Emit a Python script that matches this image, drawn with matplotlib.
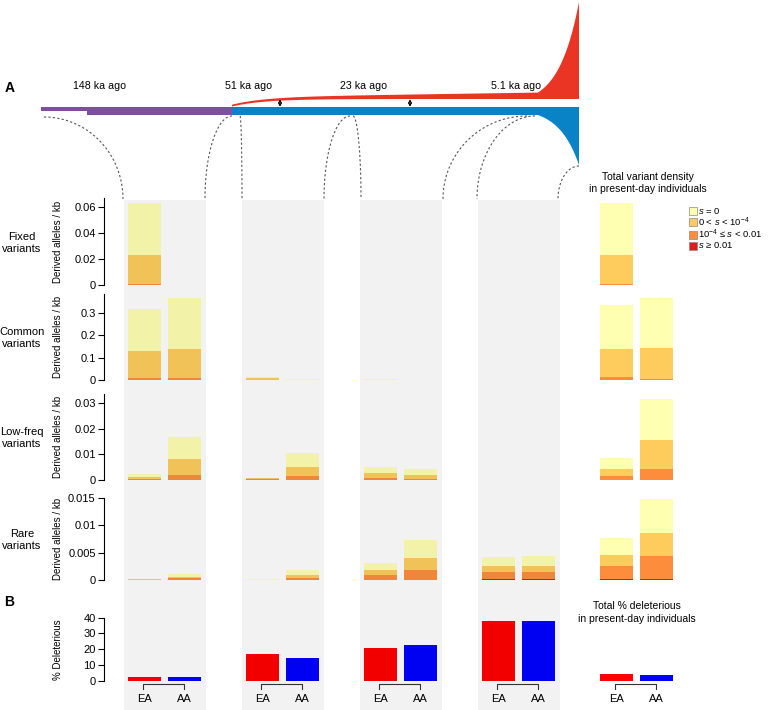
import numpy as np
import matplotlib
matplotlib.use('Agg')
from matplotlib import pyplot as plt
from matplotlib.patches import Rectangle, Polygon
from matplotlib import colors as mcolors

plt.rcParams['font.family'] = ['Liberation Sans', 'DejaVu Sans']
plt.rcParams['mathtext.fontset'] = 'custom'
plt.rcParams['mathtext.rm'] = 'Liberation Sans'
plt.rcParams['mathtext.it'] = 'Liberation Sans:italic'

W, H = 768, 710

# ---------------------------------------------------------------- data
time_labels = ['148 ka ago', '51 ka ago', '23 ka ago', '5.1 ka ago']
pops = ['EA', 'AA']
s_labels = ['$s$ = 0', '0 < $s$ < 10$^{-4}$', '10$^{-4}$ ≤ $s$ < 0.01', '$s$ ≥ 0.01']
s_colors = ['#FFFFB2', '#FECC5C', '#FD8D3C', '#E31A1C']
pop_colors = ['#FF0000', '#0000FF']

# derived alleles / kb; rows = s class (s=0, weak, moderate, strong)
# columns = 148 ka, 51 ka, 23 ka, 5.1 ka, present day
fixed_ea = [[0.0402, 0, 0, 0, 0.0402],
            [0.0226, 0, 0, 0, 0.0226],
            [0.0005, 0, 0, 0, 0.0005],
            [0, 0, 0, 0, 0]]
fixed_aa = [[0, 0, 0, 0, 0],
            [0, 0, 0, 0, 0],
            [0, 0, 0, 0, 0],
            [0, 0, 0, 0, 0]]

common_ea = [[0.187, 0.006, 0.002, 0, 0.195],
             [0.119, 0.006, 0.002, 0, 0.128],
             [0.009, 0.001, 0, 0, 0.011],
             [0.001, 0, 0, 0, 0.001]]
common_aa = [[0.223, 0.001, 0, 0, 0.223],
             [0.133, 0.0015, 0, 0, 0.138],
             [0.007, 0.0005, 0, 0, 0.006],
             [0, 0, 0, 0, 0]]

lowfreq_ea = [[0.0011, 0.0002, 0.0025, 0, 0.0043],
              [0.0006, 0.0003, 0.0018, 0, 0.0028],
              [0.0005, 0.0004, 0.0009, 0, 0.0016],
              [0, 0, 0, 0, 0]]
lowfreq_aa = [[0.0086, 0.0056, 0.0021, 0, 0.0162],
              [0.0063, 0.0035, 0.0016, 0, 0.0111],
              [0.0019, 0.0014, 0.0005, 0, 0.0043],
              [0, 0, 0, 0, 0]]

rare_ea = [[0.0001, 0.00005, 0.0013, 0.0016, 0.0030],
           [0.0001, 0.00005, 0.0009, 0.0011, 0.0020],
           [0, 0, 0.0009, 0.0013, 0.0024],
           [0, 0, 0, 0.0002, 0.0002]]
rare_aa = [[0.00044, 0.0009, 0.0033, 0.0017, 0.0063],
           [0.0003, 0.0005, 0.0023, 0.0011, 0.0043],
           [0.0003, 0.0004, 0.0018, 0.0013, 0.0041],
           [0, 0, 0, 0.0002, 0.0002]]

pct_del_ea = [2.7, 16.9, 21.0, 38.1, 4.4]
pct_del_aa = [2.3, 14.6, 22.9, 38.1, 3.9]

row_names = ['Fixed\nvariants', 'Common\nvariants', 'Low-freq\nvariants', 'Rare\nvariants']
row_data = [(fixed_ea, fixed_aa), (common_ea, common_aa),
            (lowfreq_ea, lowfreq_aa), (rare_ea, rare_aa)]
row_ticks = [[0, 0.02, 0.04, 0.06], [0, 0.1, 0.2, 0.3],
             [0, 0.01, 0.02, 0.03], [0, 0.005, 0.01, 0.015]]
del_ticks = [0, 10, 20, 30, 40]

# ---------------------------------------------------------------- layout (pixels)
row_top = [198, 294, 394, 498]
row_zero = [285, 380, 480, 580]
row_ymax = [0.0669, 0.383, 0.0334, 0.015]
del_top, del_zero = 617.5, 681
centers = 164.5 + 118 * np.arange(5)
offsets = [-20, 20]
bar_w = 33
legend_y = [211, 222, 234.5, 245.5]


def shade(c, f=0.95):
    r, g, b = mcolors.to_rgb(c)
    return (r * f, g * f, b * f)


def px_axes(fig, x0, y0, x1, y1):
    return fig.add_axes([x0 / W, 1 - y1 / H, (x1 - x0) / W, (y1 - y0) / H])


def style_axis(ax, ticks, ymax):
    ax.set_xlim(104, W)
    ax.set_ylim(0, ymax)
    ax.set_facecolor('none')
    for side in ['top', 'right', 'bottom']:
        ax.spines[side].set_visible(False)
    ax.spines['left'].set_linewidth(0.8)
    ax.set_xticks([])
    ax.set_yticks(ticks)
    ax.set_yticklabels(['%g' % t for t in ticks])
    ax.tick_params(axis='y', direction='out', length=4, width=0.8,
                   labelsize=8, pad=2)


fig = plt.figure(figsize=(W / 100, H / 100), dpi=100)

# overlay in pixel coordinates for the diagram, panels and labels
ov = fig.add_axes([0, 0, 1, 1], zorder=0)
ov.set_xlim(0, W)
ov.set_ylim(H, 0)
ov.axis('off')

# grey panels behind each time point
for g in range(4):
    ov.add_patch(Rectangle((centers[g] - 41, 200), 82, H - 200,
                           facecolor='#F2F2F2', edgecolor='none'))

# ---- panel A: demographic history sketch
purple, blue, red = '#7E4E9F', '#0A83C6', '#EB3524'
ov.add_patch(Polygon([(41, 107), (232, 107), (232, 115), (87, 115),
                      (87, 111), (41, 111)], closed=True,
                     facecolor=purple, edgecolor='none'))

xs = np.linspace(232, 538, 160)
xg = np.linspace(538, 579, 60)
grow = np.exp(0.05 * (xg - 538)) - 1
grow = grow / grow[-1]

blue_top = np.r_[np.full(xs.size, 107), np.full(xg.size, 107)]
blue_bot = np.r_[np.full(xs.size, 115), 115 + 50 * grow]
xall = np.r_[xs, xg]
ov.add_patch(Polygon(np.r_[np.c_[xall, blue_top], np.c_[xall[::-1], blue_bot[::-1]]],
                     closed=True, facecolor=blue, edgecolor='none'))

split = 99 + 7.5 * np.exp(-(xs - 232) / 32)
red_bot = np.r_[split, np.full(xg.size, 99)]
red_top = np.r_[split - (1.8 + 4.6 * (xs - 232) / 306),
                92.6 - 90.6 * grow]
ov.add_patch(Polygon(np.r_[np.c_[xall, red_top], np.c_[xall[::-1], red_bot[::-1]]],
                     closed=True, facecolor=red, edgecolor='none'))

for xa in [280, 410]:
    ov.annotate('', xy=(xa, 99.2), xytext=(xa, 106.8),
                arrowprops=dict(arrowstyle='<->', lw=0.8, color='black',
                                mutation_scale=5, shrinkA=0, shrinkB=0))

label_x = [100, 249, 364, 516]
for lx, lab in zip(label_x, time_labels):
    ov.text(lx, 86, lab, ha='center', va='center', fontsize=7.7)
ov.text(9.5, 88, 'A', ha='center', va='center', fontsize=10, fontweight='bold')
ov.text(9.5, 602, 'B', ha='center', va='center', fontsize=10, fontweight='bold')

# dashed connectors from the sketch to the panels
curves = [(44, 117, 123, 199), (232, 116, 205, 199), (240, 116, 242, 199),
          (350, 116, 324, 199), (353, 116, 361, 199), (527, 116, 443, 199),
          (535, 116, 477, 199), (579, 166, 558, 199)]
t = np.linspace(0, np.pi / 2, 60)
for xt, yt, xb, yb in curves:
    cx = xt + (xb - xt) * np.sin(t)
    cy = yb - (yb - yt) * np.cos(t)
    ov.plot(cx, cy, color='#555555', lw=0.8, ls=(0, (2, 2)))

ov.text(648, 183, 'Total variant density\nin present-day individuals',
        ha='center', va='center', fontsize=7.5, linespacing=1.3)
ov.text(637, 612.5, 'Total % deleterious\nin present-day individuals',
        ha='center', va='center', fontsize=7.5, linespacing=1.3)

# legend
for yk, c, lab in zip(legend_y, s_colors, s_labels):
    ov.add_patch(Rectangle((689, yk - 4), 8, 8, facecolor=c,
                           edgecolor='#8a8a8a', lw=0.5))
    ov.text(698.5, yk, lab, ha='left', va='center', fontsize=6.8)

# ---- variant density rows
for r, (ea, aa) in enumerate(row_data):
    ax = px_axes(fig, 104, row_top[r], W, row_zero[r])
    ax.set_zorder(1)
    style_axis(ax, row_ticks[r], row_ymax[r])
    for p, data in enumerate((ea, aa)):
        data = np.array(data, dtype=float)
        bottoms = np.zeros(5)
        for k in [3, 2, 1, 0]:
            cols = [shade(s_colors[k]) if g < 4 else s_colors[k] for g in range(5)]
            ax.bar(centers + offsets[p], data[k], bar_w, bottom=bottoms,
                   color=cols, linewidth=0)
            bottoms += data[k]
    ov.text(22, (row_top[r] + row_zero[r]) / 2 + 1, row_names[r],
            ha='center', va='center', fontsize=8, linespacing=1.25)
    ov.text(58, (row_top[r] + row_zero[r]) / 2, 'Derived alleles / kb',
            ha='center', va='center', rotation=90, fontsize=7)

# ---- panel B: % deleterious
axb = px_axes(fig, 104, del_top, W, del_zero)
axb.set_zorder(1)
style_axis(axb, del_ticks, 40)
for p, vals in enumerate((pct_del_ea, pct_del_aa)):
    cols = [shade(pop_colors[p]) if g < 4 else pop_colors[p] for g in range(5)]
    axb.bar(centers + offsets[p], vals, bar_w, color=cols, linewidth=0)
ov.text(58, (del_top + del_zero) / 2, '% Deleterious',
        ha='center', va='center', rotation=90, fontsize=7)

# brackets and population labels
for cx in centers:
    x0, x1 = cx + offsets[0] - 2, cx + offsets[1] - 1
    ov.plot([x0, x0, x1, x1], [689, 684, 684, 689], color='#333333', lw=0.8)
    for p, name in enumerate(pops):
        ov.text(cx + offsets[p], 699, name, ha='center', va='center', fontsize=8)

fig.savefig('out.png', dpi=100)
